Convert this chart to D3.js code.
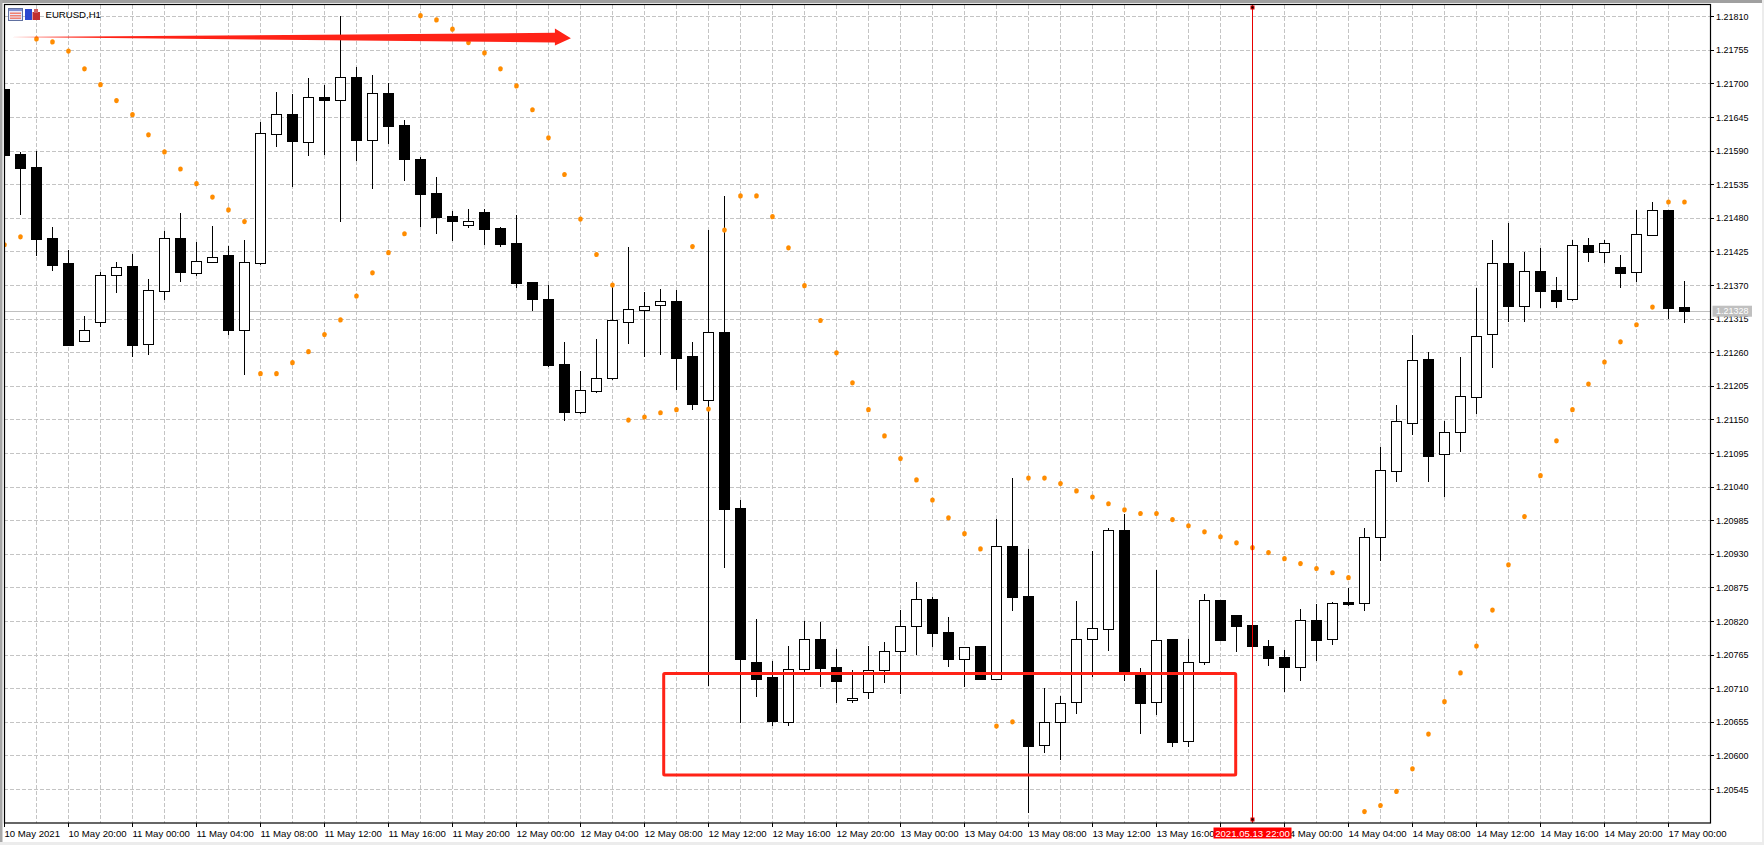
<!DOCTYPE html>
<html><head><meta charset="utf-8">
<script src="https://cdn.jsdelivr.net/npm/d3@7"></script>
<style>
html,body{margin:0;padding:0;background:#fff;overflow:hidden}
svg{display:block}
text{font-family:"Liberation Sans",Arial,sans-serif;font-size:9.6px;fill:#000}
</style></head><body><svg id="c" width="1764" height="845"></svg>
<script>
const symbol = "EURUSD,H1";
const open = [121691,121585,121564,121447,121406,121279,121310,121387,121402,121274,121361,121447,121390,121408,121420,121297,121406,121618,121650,121605,121678,121673,121711,121608,121685,121632,121577,121521,121483,121469,121490,121464,121439,121375,121347,121241,121163,121197,121217,121310,121329,121338,121344,121254,121181,121293,121005,120753,120729,120655,120742,120791,120745,120691,120704,120740,120771,120812,120856,120802,120758,120779,120725,120943,120861,120617,120655,120688,120791,120807,120969,120735,120688,120791,120624,120753,120855,120830,120814,120779,120761,120745,120822,120791,120851,120850,120958,121066,121145,121249,121094,121130,121187,121290,121406,121336,121393,121362,121347,121436,121424,121400,121392,121452,121493,121334];
const high = [121691,121588,121590,121465,121428,121320,121392,121408,121421,121380,121459,121488,121441,121467,121434,121443,121637,121686,121683,121709,121698,121811,121727,121714,121701,121641,121580,121547,121492,121495,121495,121465,121485,121375,121370,121277,121230,121282,121369,121433,121359,121364,121362,121277,121460,121516,121018,120824,120755,120779,120820,120819,120775,120740,120779,120786,120838,120884,120860,120827,120778,120779,120987,121054,120938,120711,120698,120853,120935,120973,120996,120743,120904,120791,120791,120865,120855,120830,120814,120789,120773,120840,120848,120851,120874,120973,121105,121174,121289,121261,121148,121253,121366,121444,121472,121424,121431,121384,121444,121447,121444,121420,121493,121506,121493,121377];
const low = [121583,121485,121418,121393,121271,121279,121302,121357,121253,121256,121346,121375,121385,121408,121289,121223,121403,121596,121531,121582,121583,121474,121573,121528,121601,121541,121465,121454,121442,121464,121436,121433,121366,121328,121236,121148,121159,121194,121215,121274,121253,121256,121199,121166,120714,120907,120653,120696,120648,120648,120735,120712,120685,120686,120693,120719,120701,120765,120778,120745,120712,120724,120725,120837,120506,120604,120593,120668,120729,120771,120722,120635,120666,120614,120614,120748,120789,120770,120779,120747,120703,120722,120755,120781,120845,120837,120919,121048,121125,121048,121023,121097,121159,121235,121310,121310,121333,121333,121344,121408,121406,121366,121375,121451,121315,121308];
const close = [121583,121562,121446,121403,121271,121297,121387,121400,121272,121362,121447,121392,121410,121416,121297,121408,121619,121650,121605,121678,121673,121711,121608,121685,121631,121577,121519,121482,121474,121475,121462,121438,121374,121347,121239,121163,121199,121218,121312,121331,121336,121344,121251,121176,121293,121004,120758,120725,120657,120742,120791,120743,120722,120694,120740,120771,120812,120856,120801,120758,120778,120725,120943,120860,120616,120655,120686,120791,120809,120969,120735,120686,120789,120622,120753,120855,120789,120812,120779,120760,120745,120822,120789,120850,120848,120958,121068,121148,121248,121091,121130,121189,121287,121406,121336,121393,121361,121344,121436,121424,121439,121390,121454,121493,121333,121328];
const sar = [121436,121449,121773,121768,121753,121724,121698,121672,121649,121616,121588,121560,121536,121514,121493,121474,121225,121225,121243,121261,121289,121313,121352,121390,121423,121454,121811,121804,121789,121767,121750,121724,121696,121657,121611,121551,121478,121420,121370,121149,121154,121161,121166,121433,121167,121460,121516,121516,121482,121431,121369,121312,121259,121210,121166,121123,121086,121051,121018,120989,120963,120938,120648,120655,121054,121054,121045,121033,121023,121012,121002,120996,120996,120986,120976,120966,120958,120948,120940,120932,120922,120914,120906,120899,120891,120508,120518,120541,120578,120635,120688,120735,120779,120838,120912,120991,121058,121115,121166,121208,121244,121277,121305,121334,121506,121506];
const priceTicks = [121810,121755,121700,121645,121590,121535,121480,121425,121370,121315,121260,121205,121150,121095,121040,120985,120930,120875,120820,120765,120710,120655,120600,120545];
const timeLabels = ["10 May 2021","10 May 20:00","11 May 00:00","11 May 04:00","11 May 08:00","11 May 12:00","11 May 16:00","11 May 20:00","12 May 00:00","12 May 04:00","12 May 08:00","12 May 12:00","12 May 16:00","12 May 20:00","13 May 00:00","13 May 04:00","13 May 08:00","13 May 12:00","13 May 16:00","","14 May 00:00","14 May 04:00","14 May 08:00","14 May 12:00","14 May 16:00","14 May 20:00","17 May 00:00"];
const bidPrice = 121328;
const cursorBar = 78, cursorLabel = "2021.05.13 22:00";
const boxBars = [41.2,76.95], boxPrices = [120734,120568];
const arrowBars = [0.32,34.4,35.4], arrowPrices = [121776,121783,121790,121774,121762,121767];

const svg = d3.select("#c");
const L=4.5,T=4.5,R=1710.5,B=823;
const x = d3.scaleLinear().domain([0,105]).range([4.5,1684.5]);
const y = d3.scaleLinear().domain([121810,120545]).range([16.3,789]);
const fmt = v=>(v/100000).toFixed(5);

// chrome
svg.append("rect").attr("width",1764).attr("height",845).attr("fill","#fff");
svg.append("rect").attr("width",1764).attr("height",3).attr("fill","#a0a0a0");
svg.append("rect").attr("width",2.5).attr("height",845).attr("fill","#a8a8a8");
svg.append("rect").attr("y",842).attr("width",1764).attr("height",3).attr("fill","#ececec");
svg.append("rect").attr("x",1762).attr("width",2).attr("height",845).attr("fill","#ececec");

const defs=svg.append("defs");
defs.append("clipPath").attr("id","pl").append("rect").attr("x",L).attr("y",T).attr("width",R-L).attr("height",B-T);
const plot=svg.append("g").attr("clip-path","url(#pl)");

// grid
const dash="4,2";
plot.selectAll(".gh").data(priceTicks).join("line").attr("x1",4).attr("x2",R)
 .attr("y1",d=>Math.round(y(d))+.5).attr("y2",d=>Math.round(y(d))+.5)
 .attr("stroke","#c4c4c4").attr("stroke-dasharray",dash).attr("shape-rendering","crispEdges");
const gridBars=d3.range(2,106,2);
plot.selectAll(".gv").data(gridBars).join("line").attr("y1",T).attr("y2",B)
 .attr("x1",d=>x(d)).attr("x2",d=>x(d)).attr("stroke","#c4c4c4").attr("stroke-dasharray",dash).attr("shape-rendering","crispEdges");
// bid
plot.append("line").attr("x1",L).attr("x2",R).attr("y1",Math.round(y(bidPrice))+.5).attr("y2",Math.round(y(bidPrice))+.5).attr("stroke","#c0c0c0");

// candles
const idx=d3.range(open.length);
plot.selectAll(".wick").data(idx).join("line")
 .attr("x1",i=>x(i)).attr("x2",i=>x(i)).attr("y1",i=>y(high[i])).attr("y2",i=>y(low[i]))
 .attr("stroke","#000").attr("stroke-width",1).attr("shape-rendering","crispEdges");
plot.selectAll(".body").data(idx).join("rect")
 .attr("x",i=>x(i)-5).attr("width",10)
 .attr("y",i=>Math.round(y(Math.max(open[i],close[i])))+.5)
 .attr("height",i=>Math.max(1,Math.round(Math.abs(y(open[i])-y(close[i])))))
 .attr("fill",i=>close[i]>=open[i]?"#fff":"#000").attr("stroke","#000").attr("stroke-width",1).attr("shape-rendering","crispEdges");
// SAR
plot.selectAll(".sar").data(idx).join("ellipse")
 .attr("cx",i=>x(i)).attr("cy",i=>y(sar[i])).attr("rx",2.3).attr("ry",2.6).attr("fill","#ff8c00");

// red annotations
const red="#ff2317";
plot.append("rect").attr("x",x(boxBars[0])).attr("y",y(boxPrices[0])).attr("width",x(boxBars[1])-x(boxBars[0])).attr("height",y(boxPrices[1])-y(boxPrices[0]))
 .attr("fill","none").attr("stroke",red).attr("stroke-width",3).attr("rx",1);
const ax=[arrowBars[0],arrowBars[1],arrowBars[1],arrowBars[2],arrowBars[1],arrowBars[1]];
const ap=[arrowPrices[0],arrowPrices[1],arrowPrices[2],arrowPrices[3],arrowPrices[4],arrowPrices[5]];
plot.append("polygon").attr("points",ax.map((b,i)=>x(b)+","+y(ap[i])).join(" ")).attr("fill",red);
// crosshair
plot.append("line").attr("x1",x(cursorBar)).attr("x2",x(cursorBar)).attr("y1",T).attr("y2",B).attr("stroke","#e80000").attr("stroke-width",1);
[7.5,819.5].forEach(yy=>svg.append("rect").attr("x",x(cursorBar)-1.5).attr("y",yy-1.5).attr("width",3).attr("height",3).attr("fill","#000").attr("stroke","#e00000"));

// frame
svg.append("rect").attr("x",L).attr("y",T).attr("width",R-L).attr("height",B-T).attr("fill","none").attr("stroke","#000").attr("stroke-width",1.2);

// y axis
const ay=svg.append("g");
ay.selectAll("line").data(priceTicks).join("line").attr("x1",R).attr("x2",R+3.5).attr("y1",d=>Math.round(y(d))+.5).attr("y2",d=>Math.round(y(d))+.5).attr("stroke","#000");
ay.selectAll("text").data(priceTicks).join("text").attr("x",R+5.5).attr("y",d=>y(d)+3.5).attr("textLength",32.5).attr("lengthAdjust","spacingAndGlyphs").text(fmt);
// bid label
svg.append("rect").attr("x",1712.5).attr("y",y(bidPrice)-5).attr("width",39.5).attr("height",11).attr("fill","#c0c0c0");
svg.append("text").attr("x",R+5.5).attr("y",y(bidPrice)+3.5).attr("textLength",32.5).attr("lengthAdjust","spacingAndGlyphs").style("fill","#fff").text(fmt(bidPrice));

// x axis
const tickBars=timeLabels.map((_,i)=>i*4);
const ax2=svg.append("g");
ax2.selectAll("line").data(tickBars).join("line").attr("x1",d=>x(d)).attr("x2",d=>x(d)).attr("y1",B).attr("y2",B+4).attr("stroke","#000");
ax2.selectAll("text").data(timeLabels.map((t,i)=>[t,i]).filter(d=>d[0])).join("text").attr("x",d=>x(tickBars[d[1]])).attr("y",836.5).text(d=>d[0]);
// cursor label
svg.append("rect").attr("x",x(cursorBar)-39).attr("y",827.5).attr("width",78).attr("height",11).attr("fill","#ff0000");
svg.append("text").attr("x",x(cursorBar)).attr("y",836.5).attr("text-anchor","middle").style("fill","#fff").text(cursorLabel);

// title and icons
svg.append("rect").attr("x",8.5).attr("y",8.5).attr("width",14).attr("height",12).attr("fill","#e8e8f8").attr("stroke","#6070a0");
svg.append("rect").attr("x",9).attr("y",9).attr("width",13).attr("height",2).attr("fill","#8090d0");
[12.5,15,17.5].forEach(v=>svg.append("rect").attr("x",10).attr("y",v).attr("width",11).attr("height",1.5).attr("fill","#f08070"));
svg.append("rect").attr("x",25).attr("y",9).attr("width",7).attr("height",11).attr("fill","#2c48d0");
svg.append("rect").attr("x",32.5).attr("y",12).attr("width",7.5).attr("height",8).attr("fill","#c03030");
svg.append("rect").attr("x",34).attr("y",9).attr("width",4).attr("height",4).attr("fill","#d06060");
svg.append("text").attr("x",45.5).attr("y",18).style("font-size","9.6px").text(symbol);
</script></body></html>
